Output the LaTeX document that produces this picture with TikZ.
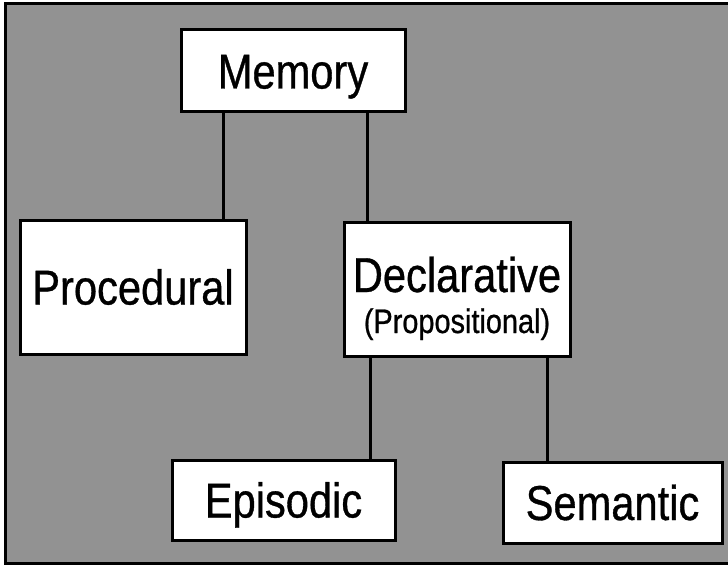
\documentclass[tikz,border=0pt]{standalone}
\usepackage{fontspec}
\setmainfont{Liberation Sans}[FakeStretch=0.85,FakeBold=0.7]
\definecolor{bggray}{RGB}{146,146,146}
\tikzset{
  box/.style={draw=black, fill=white, line width=3pt, inner sep=0pt, align=center,
    font=\fontsize{49}{51}\selectfont},
  onetext/.style={text height=35pt, text depth=0pt},
  link/.style={line width=3pt, draw=black}
}
\begin{document}
\begin{tikzpicture}[x=1pt,y=-1pt]
\useasboundingbox (0,0) rectangle (728,567);
\fill[white] (0,0) rectangle (728,567);
\fill[bggray] (5,4) rectangle (728,563);
\draw[line width=3pt] (728,4) -- (5,4) -- (5,563) -- (728,563);

\node[box, onetext, minimum width=224pt, minimum height=82pt] (mem) at (293,71) {Memory};
\node[box, onetext, minimum width=226pt, minimum height=134pt] (proc) at (133,287) {Procedural};
\node[box, minimum width=226pt, minimum height=134pt] (decl) at (457,289)
  {\raisebox{-44pt}[0pt][0pt]{\vbox{\baselineskip=41pt\lineskiplimit=-100pt
     \halign{\hfil#\hfil\cr Declarative\cr
       \fontsize{34}{36}\selectfont(Propositional)\cr}}}};
\node[box, onetext, minimum width=223pt, minimum height=80pt] (epi) at (283.5,500) {Episodic};
\node[box, onetext, minimum width=219pt, minimum height=81pt] (sem) at (612.5,502.5) {Semantic};

\draw[link] ([xshift=-70pt]mem.south) -- ([xshift=-70pt]mem.south |- proc.north);
\draw[link] ([xshift=74pt]mem.south) -- ([xshift=74pt]mem.south |- decl.north);
\draw[link] ([xshift=-87pt]decl.south) -- ([xshift=-87pt]decl.south |- epi.north);
\draw[link] ([xshift=90pt]decl.south) -- ([xshift=90pt]decl.south |- sem.north);
\end{tikzpicture}
\end{document}
